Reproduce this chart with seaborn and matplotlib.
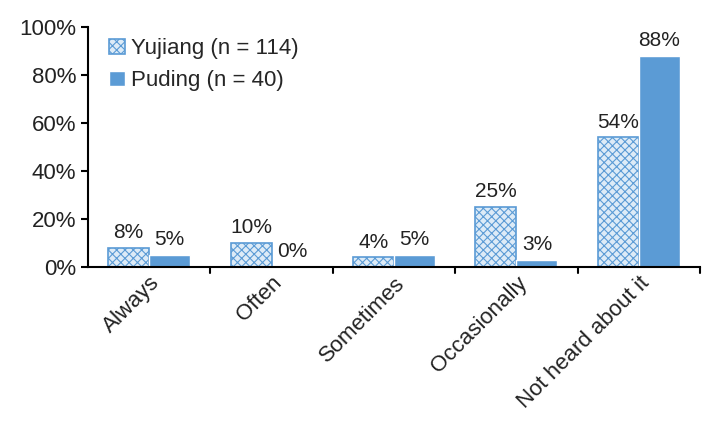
import pandas as pd
import matplotlib.pyplot as plt
import seaborn as sns
from matplotlib.ticker import PercentFormatter, FixedLocator

categories = ['Always', 'Often', 'Sometimes', 'Occasionally', 'Not heard about it']
yujiang = [8, 10, 4, 25, 54]
puding = [5, 0, 5, 3, 88]
groups = ['Yujiang (n = 114)', 'Puding (n = 40)']

df = pd.DataFrame({
    'category': categories * 2,
    'value': yujiang + puding,
    'group': [groups[0]] * len(categories) + [groups[1]] * len(categories),
})

sns.set_style('white')
plt.rcParams['font.family'] = ['Liberation Sans', 'DejaVu Sans']

blue = '#5B9BD5'
plt.rcParams['hatch.linewidth'] = 0.8
plt.rcParams['hatch.color'] = blue

fig = plt.figure(figsize=(7.02, 4.30), dpi=100)
ax = fig.add_axes([88 / 702, 1 - 267 / 430, 612 / 702, 240 / 430])

sns.barplot(data=df, x='category', y='value', hue='group',
            palette=[blue, blue], width=0.67, ax=ax, saturation=1)

for bar in ax.containers[0]:
    bar.set_facecolor('#DDEBF7')
    bar.set_edgecolor(blue)
    bar.set_hatch('xxxx')
    bar.set_linewidth(1.2)

for cont in ax.containers:
    ax.bar_label(cont, labels=[f'{v:.0f}%' for v in cont.datavalues],
                 padding=4, fontsize=15, color='#222222')

ax.set_ylim(0, 100)
ax.set_xlim(-0.5, len(categories) - 0.5)
ax.yaxis.set_major_locator(FixedLocator([0, 20, 40, 60, 80, 100]))
ax.yaxis.set_major_formatter(PercentFormatter(decimals=0))
ax.tick_params(axis='y', labelsize=16, length=5, width=1.5, direction='out',
               left=True, colors='black', labelcolor='#222222')
ax.tick_params(axis='x', labelsize=16, length=0, pad=4, labelcolor='#222222')
ax.set_xticks(range(len(categories)))
ax.set_xticklabels(categories, rotation=45, ha='right', rotation_mode='anchor')
for x in [i + 0.5 for i in range(len(categories))]:
    ax.plot([x, x], [0, -2.5], color='black', lw=1.5, clip_on=False)
ax.set_xlabel('')
ax.set_ylabel('')

sns.despine(ax=ax, top=True, right=True)
ax.spines['left'].set_linewidth(1.5)
ax.spines['bottom'].set_linewidth(1.5)
ax.spines['left'].set_color('black')
ax.spines['bottom'].set_color('black')

handles = [ax.containers[0][0], ax.containers[1][0]]
ax.legend(handles, groups, loc='upper left', bbox_to_anchor=(0.02, 0.99),
          frameon=False, fontsize=16, handlelength=0.7, handleheight=0.7,
          handletextpad=0.3, labelspacing=0.5, borderaxespad=0)

fig.savefig('out.png', dpi=100)
